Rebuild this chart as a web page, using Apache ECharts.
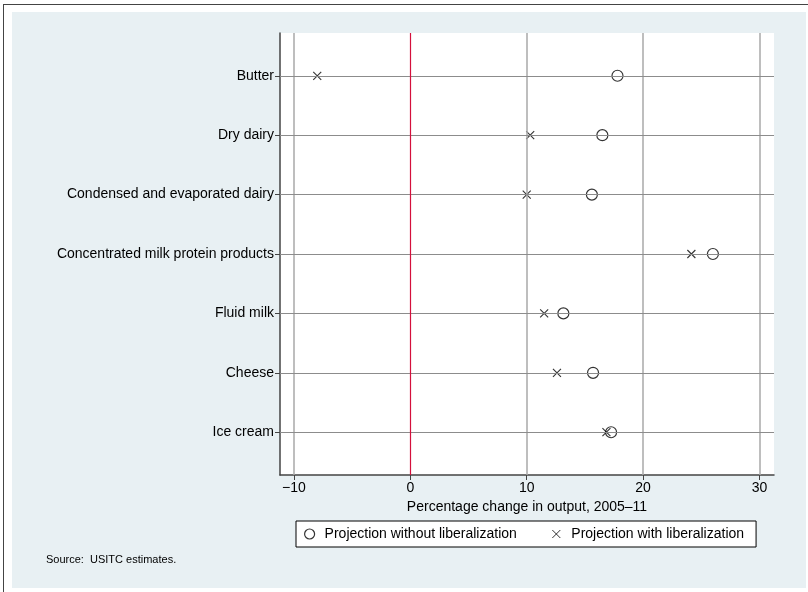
<!DOCTYPE html>
<html>
<head>
<meta charset="utf-8">
<script src="https://cdn.jsdelivr.net/npm/echarts@6/dist/echarts.min.js"></script>
<style>
  html, body { margin: 0; padding: 0; background: #ffffff; }
  #wrap { position: relative; width: 808px; height: 592px; overflow: hidden; background: #ffffff; }
  #frameTop { position: absolute; left: 3px; top: 3.5px; width: 805px; height: 0; border-top: 1.5px solid #444; }
  #frameLeft { position: absolute; left: 3px; top: 3.5px; width: 0; height: 589px; border-left: 1.5px solid #444; }
  #bg { position: absolute; left: 12px; top: 12px; width: 794px; height: 576px; background: #e8f0f3; }
  #chart { position: absolute; left: 0; top: 0; width: 808px; height: 592px; }
</style>
</head>
<body>
<div id="wrap">
  <div id="frameTop"></div>
  <div id="frameLeft"></div>
  <div id="bg"></div>
  <div id="chart"></div>
</div>
<script>
// ---- data ----
const categories = [
  "Butter",
  "Dry dairy",
  "Condensed and evaporated dairy",
  "Concentrated milk protein products",
  "Fluid milk",
  "Cheese",
  "Ice cream"
];
const withoutLiberalization = [17.8, 16.5, 15.6, 26.0, 13.15, 15.7, 17.25];
const withLiberalization = [-8.0, 10.3, 10.0, 24.15, 11.5, 12.6, 16.85];
const xTickValues = [-10, 0, 10, 20, 30];
const xTickLabels = ["\u221210", "0", "10", "20", "30"];
const seriesNames = ["Projection without liberalization", "Projection with liberalization"];
const xAxisTitle = "Percentage change in output, 2005\u201311";
const sourceNote = "Source:  USITC estimates.";

const catIdx = categories.map((c, i) => i);
const font = "Liberation Sans, Arial, Helvetica, sans-serif";
const crossPath = 'path://M0,0L0,0M1,1L9,9M9,1L1,9M10,10L10,10';

const chart = echarts.init(document.getElementById('chart'), null, { renderer: 'canvas' });

const vGrid = xTickValues.filter(v => v !== 0).map(v => ({ xAxis: v }));
const hGrid = catIdx.map(i => ({ yAxis: i, lineStyle: { color: '#8c8c8c', width: 1.2 } }));

chart.setOption({
  animation: false,
  backgroundColor: 'transparent',
  grid: {
    left: 280, right: 34, top: 33, bottom: 117,
    show: true, backgroundColor: '#ffffff', borderWidth: 0
  },
  xAxis: {
    type: 'value', min: -11.2, max: 31.25,
    axisLine: { show: true, onZero: false, lineStyle: { color: '#444', width: 1.5 } },
    axisTick: { show: true, customValues: xTickValues, length: 5, lineStyle: { color: '#444', width: 1 } },
    axisLabel: {
      customValues: xTickValues,
      formatter: v => xTickLabels[xTickValues.indexOf(v)],
      color: '#000', fontFamily: font, fontSize: 14, margin: 6
    },
    splitLine: { show: false },
    name: xAxisTitle, nameLocation: 'middle', nameGap: 24,
    nameTextStyle: { color: '#000', fontFamily: font, fontSize: 14 }
  },
  yAxis: {
    type: 'value', min: -0.72, max: 6.72, inverse: true,
    axisLine: { show: true, onZero: false, lineStyle: { color: '#444', width: 1.5 } },
    axisTick: { show: true, customValues: catIdx, length: 5, lineStyle: { color: '#444', width: 1 } },
    axisLabel: {
      customValues: catIdx,
      formatter: v => categories[v] || '',
      color: '#000', fontFamily: font, fontSize: 14, margin: 6
    },
    splitLine: { show: false }
  },
  legend: {
    left: 296, top: 521,
    orient: 'horizontal',
    backgroundColor: '#ffffff', borderColor: '#000', borderWidth: 1, borderRadius: 0,
    padding: [6, 12, 6, 8],
    itemWidth: 10, itemHeight: 10, itemGap: 34,
    textStyle: { color: '#000', fontFamily: font, fontSize: 14, padding: [0, 0, 0, 5] },
    data: [
      { name: seriesNames[0], itemStyle: { borderWidth: 1.2 } },
      { name: seriesNames[1], icon: crossPath, itemStyle: { borderWidth: 1 } }
    ]
  },
  graphic: [{
    type: 'text', left: 46, top: 554,
    style: { text: sourceNote, fill: '#000', font: '11px ' + font }
  }],
  series: [
    {
      type: 'scatter', name: '_grid', data: [], z: 1, silent: true,
      markLine: {
        silent: true, symbol: 'none', animation: false,
        label: { show: false },
        lineStyle: { type: 'solid', color: '#a8a8a8', width: 1.5 },
        data: vGrid.concat(hGrid).concat([{ xAxis: 0, lineStyle: { color: '#d4103c', width: 1.2 } }])
      }
    },
    {
      type: 'scatter', name: seriesNames[0], z: 3,
      symbol: 'circle', symbolSize: 11,
      itemStyle: { color: '#ffffff', borderColor: '#000', borderWidth: 1.2 },
      data: withoutLiberalization.map((v, i) => [v, i])
    },
    {
      type: 'scatter', name: seriesNames[1], z: 4,
      symbol: crossPath, symbolSize: 10,
      itemStyle: { color: 'rgba(0,0,0,0)', borderColor: '#000', borderWidth: 1.1 },
      data: withLiberalization.map((v, i) => [v, i])
    }
  ]
});
</script>
</body>
</html>
